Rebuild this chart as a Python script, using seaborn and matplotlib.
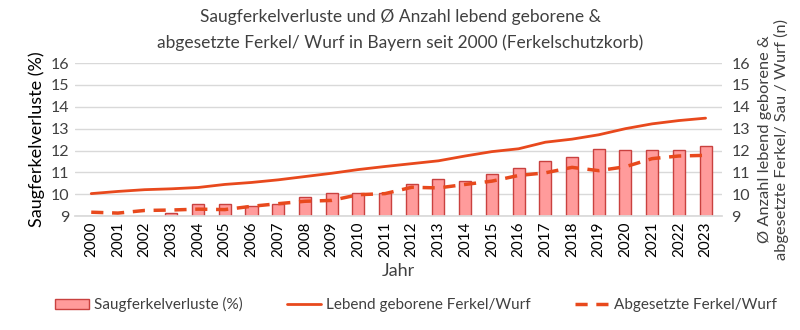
import numpy as np
import pandas as pd
import matplotlib
matplotlib.use("Agg")
import matplotlib.pyplot as plt
import seaborn as sns
from matplotlib.patches import Patch
from matplotlib.lines import Line2D

years = list(range(2000, 2024))
verluste = [np.nan, np.nan, np.nan, 9.15, 9.57, 9.57, 9.46, 9.57, 9.88, 10.08, 10.08, 10.08,
            10.48, 10.68, 10.6, 10.91, 11.18, 11.5, 11.69, 12.09, 12.03, 12.03, 12.03, 12.2]
lebend = [10.03, 10.13, 10.21, 10.25, 10.31, 10.45, 10.54, 10.66, 10.81, 10.96, 11.13, 11.27,
          11.4, 11.53, 11.75, 11.95, 12.08, 12.38, 12.52, 12.72, 13.0, 13.22, 13.37, 13.48]
abgesetzt = [9.18, 9.14, 9.26, 9.28, 9.32, 9.3, 9.45, 9.57, 9.68, 9.72, 9.98, 10.03,
             10.32, 10.29, 10.45, 10.6, 10.86, 10.98, 11.23, 11.08, 11.26, 11.63, 11.75, 11.78]

df = pd.DataFrame({"Jahr": years, "Verluste": verluste, "Lebend": lebend, "Abgesetzt": abgesetzt})

sns.set_theme(style="white")
plt.rcParams['font.family'] = ['Lato', 'DejaVu Sans']

bar_face = "#FF9B9B"
bar_edge = "#C9413F"
line_col = "#E8491D"
grid_col = "#D9D9D9"
text_col = "#404040"

fig = plt.figure(figsize=(8, 3.3), dpi=100)
ax = fig.add_axes([0.094, 0.345, 0.808, 0.464])

sns.barplot(data=df, x="Jahr", y="Verluste", native_scale=True, width=0.45,
            color=bar_face, edgecolor=bar_edge, linewidth=1.0, saturation=1, ax=ax, zorder=2)
ax.set_ylim(9, 16)
ax.set_xlim(1999.4, 2023.6)
ax.set_yticks(range(9, 17))
ax.yaxis.grid(True, color=grid_col, linewidth=1)
ax.set_axisbelow(True)
for s in ["top", "right", "left"]:
    ax.spines[s].set_visible(False)
ax.spines["bottom"].set_color(grid_col)
ax.set_xticks(years)
ax.set_xticklabels([str(y) for y in years], rotation=90, fontsize=11, color="black")
ax.tick_params(axis="y", labelsize=11.5, colors=text_col, length=0, pad=4)
ax.tick_params(axis="x", length=0, pad=4)
ax.set_ylabel("Saugferkelverluste (%)", fontsize=13, color="black", labelpad=4)
ax.set_xlabel("Jahr", fontsize=13, color=text_col, labelpad=4)

ax2 = ax.twinx()
sns.lineplot(data=df, x="Jahr", y="Lebend", color=line_col, linewidth=2, ax=ax2)
sns.lineplot(data=df, x="Jahr", y="Abgesetzt", color=line_col, linewidth=2.5, ax=ax2,
             dashes=False, linestyle=(0, (3.5, 2.5)))
ax2.set_ylim(9, 16)
ax2.set_yticks(range(9, 17))
for s in ["top", "right", "left", "bottom"]:
    ax2.spines[s].set_visible(False)
ax2.tick_params(axis="y", labelsize=11.5, colors=text_col, length=0, pad=7)
ax2.set_ylabel("Ø Anzahl lebend geborene &\nabgesetzte Ferkel/ Sau / Wurf (n)",
               fontsize=11.8, color=text_col, labelpad=6, linespacing=1.1)
ax2.set_xlim(1999.4, 2023.6)

fig.text(0.5, 0.909, "Saugferkelverluste und Ø Anzahl lebend geborene &\n"
         "abgesetzte Ferkel/ Wurf in Bayern seit 2000 (Ferkelschutzkorb)",
         ha="center", va="center", fontsize=12.5, color=text_col, linespacing=1.75)

handles = [Patch(facecolor=bar_face, edgecolor=bar_edge, linewidth=1.0),
           Line2D([0], [0], color=line_col, linewidth=2),
           Line2D([0], [0], color=line_col, linewidth=2.5, linestyle=(0, (3.5, 2.5)))]
labels = ["Saugferkelverluste (%)", "Lebend geborene Ferkel/Wurf", "Abgesetzte Ferkel/Wurf"]
fig.legend(handles, labels, loc="center", bbox_to_anchor=(0.52, 0.076), ncol=3,
           frameon=False, fontsize=11, columnspacing=2.9, handlelength=2.2, handletextpad=0.35,
           labelcolor=text_col)

fig.savefig("out.png", dpi=100)
